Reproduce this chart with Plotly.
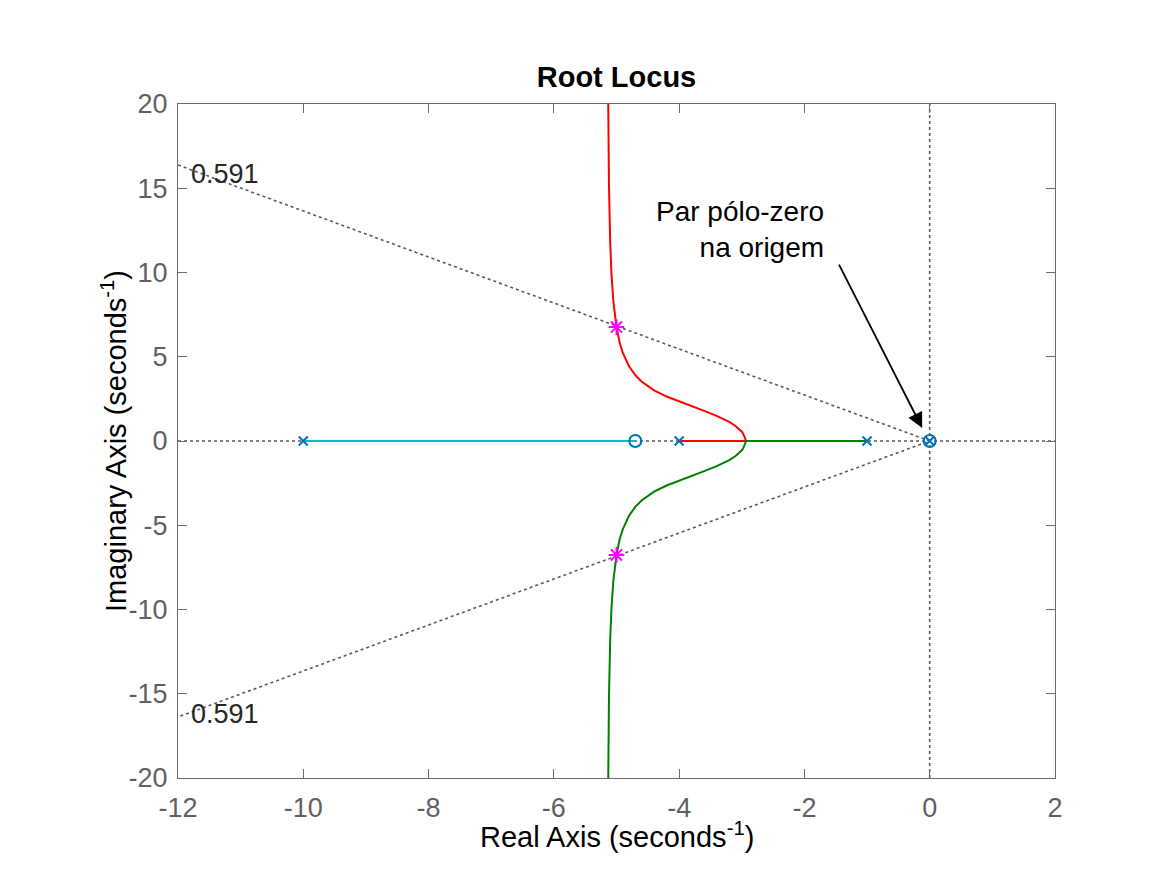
import plotly.graph_objects as go

# ---- data ----
pole_re = [-10.0, -4.0, -1.0, 0.0]
pole_im = [0.0, 0.0, 0.0, 0.0]
zero_re = [-4.7, 0.0]
zero_im = [0.0, 0.0]

cyan_re = [-10.0, -4.7]
cyan_im = [0.0, 0.0]

red_re = [-4.0, -3.5, -2.939, -2.94, -2.96, -2.98, -3.0, -3.05, -3.1, -3.2, -3.4, -3.6, -3.8,
          -4.0, -4.2, -4.4, -4.6, -4.7, -4.8, -4.9, -4.95, -5.0, -5.05, -5.08, -5.1, -5.12,
          -5.13, -5.135]
red_im = [0.0, 0.0, 0.0, 0.09, 0.33, 0.45, 0.55, 0.74, 0.89, 1.13, 1.49, 1.79, 2.07,
          2.34, 2.64, 3.01, 3.53, 3.91, 4.43, 5.24, 5.85, 6.76, 8.28, 9.9, 11.71, 15.12,
          18.52, 21.4]
green_re = [-1.0, -2.0, -2.939, -2.94, -2.96, -2.98, -3.0, -3.05, -3.1, -3.2, -3.4, -3.6, -3.8,
            -4.0, -4.2, -4.4, -4.6, -4.7, -4.8, -4.9, -4.95, -5.0, -5.05, -5.08, -5.1, -5.12,
            -5.13, -5.135]
green_im = [0.0, 0.0, 0.0, -0.09, -0.33, -0.45, -0.55, -0.74, -0.89, -1.13, -1.49, -1.79, -2.07,
            -2.34, -2.64, -3.01, -3.53, -3.91, -4.43, -5.24, -5.85, -6.76, -8.28, -9.9, -11.71,
            -15.12, -18.52, -21.4]

star_re = [-5.0, -5.0]
star_im = [6.76, -6.76]

zeta_label = "0.591"
zeta_line_re = [-12.0, 0.0, -12.0]
zeta_line_im = [16.38, 0.0, -16.38]

x_ticks = [-12, -10, -8, -6, -4, -2, 0, 2]
y_ticks = [-20, -15, -10, -5, 0, 5, 10, 15, 20]

FONT = "Liberation Sans, Arial, Helvetica, sans-serif"
GRID = "#5a5a5a"
BLUE = "#0072BD"

fig = go.Figure()

# sgrid-like dotted lines
fig.add_trace(go.Scatter(x=[-12, 2], y=[0, 0], mode="lines",
                         line=dict(color=GRID, width=1.6, dash="dot"), hoverinfo="skip"))
fig.add_trace(go.Scatter(x=[0, 0], y=[-20, 20], mode="lines",
                         line=dict(color=GRID, width=1.6, dash="dot"), hoverinfo="skip"))
fig.add_trace(go.Scatter(x=zeta_line_re, y=zeta_line_im, mode="lines",
                         line=dict(color=GRID, width=1.6, dash="dot"), hoverinfo="skip"))

# locus branches
fig.add_trace(go.Scatter(x=cyan_re, y=cyan_im, mode="lines",
                         line=dict(color="#00BFBF", width=2)))
fig.add_trace(go.Scatter(x=red_re, y=red_im, mode="lines",
                         line=dict(color="#FF0000", width=2)))
fig.add_trace(go.Scatter(x=green_re, y=green_im, mode="lines",
                         line=dict(color="#008000", width=2)))

# poles and zeros
fig.add_trace(go.Scatter(x=pole_re, y=pole_im, mode="markers",
                         marker=dict(symbol="x-thin", size=9, color=BLUE,
                                     line=dict(color=BLUE, width=2))))
fig.add_trace(go.Scatter(x=zero_re, y=zero_im, mode="markers",
                         marker=dict(symbol="circle-open", size=12, color=BLUE,
                                     line=dict(color=BLUE, width=2))))
fig.add_trace(go.Scatter(x=star_re, y=star_im, mode="markers",
                         marker=dict(symbol="asterisk-open", size=13, color="#FF00FF",
                                     line=dict(color="#FF00FF", width=2))))

axis_common = dict(
    showgrid=False, zeroline=False, showline=True, mirror="ticks",
    linecolor="#6b6b6b", linewidth=1.3, ticks="inside", ticklen=9, tickwidth=1.3,
    tickcolor="#6b6b6b", tickfont=dict(family=FONT, size=27, color="#5f5f5f"),
)

fig.update_layout(
    width=1167, height=875,
    paper_bgcolor="white", plot_bgcolor="white",
    showlegend=False,
    margin=dict(l=178, r=112, t=104, b=97),
    title=dict(text="<b>Root Locus</b>", x=(178 + 1055) / 2 / 1167, xanchor="center",
               y=1 - 77 / 875, yanchor="middle",
               font=dict(family=FONT, size=29, color="black")),
    xaxis=dict(range=[-12, 2], tickvals=x_ticks, ticktext=[str(t) for t in x_ticks],
               ticklabelstandoff=5, **axis_common),
    yaxis=dict(range=[-20, 20], tickvals=y_ticks, ticktext=[str(t) for t in y_ticks],
               ticklabelstandoff=4, **axis_common),
)

# axis titles
fig.add_annotation(xref="paper", yref="paper", x=0.5, y=(778 - 835) / 674,
                   text="Real Axis (seconds<sup>-1</sup>)", showarrow=False,
                   xanchor="center", yanchor="middle",
                   font=dict(family=FONT, size=29, color="black"))
fig.add_annotation(xref="paper", yref="paper", x=(114 - 178) / 877, y=0.5,
                   text="Imaginary Axis (seconds<sup>-1</sup>)", showarrow=False,
                   textangle=-90, xanchor="center", yanchor="middle",
                   font=dict(family=FONT, size=29, color="black"))

# damping labels
fig.add_annotation(x=-11.82, y=15.85, text=zeta_label, showarrow=False, xanchor="left",
                   yanchor="middle", font=dict(family=FONT, size=27, color="#262626"))
fig.add_annotation(x=-11.82, y=-16.2, text=zeta_label, showarrow=False, xanchor="left",
                   yanchor="middle", font=dict(family=FONT, size=27, color="#262626"))

# text annotation + arrow
fig.add_annotation(x=-1.655, y=12.55, text="Par pólo-zero<br>na origem", showarrow=False,
                   xanchor="right", yanchor="middle", align="right",
                   font=dict(family=FONT, size=28, color="black"))
fig.add_annotation(x=-0.12, y=0.77, ax=-1.46, ay=10.56, axref="x", ayref="y",
                   text="", showarrow=True, arrowhead=2, arrowsize=1.7, arrowwidth=1.8,
                   arrowcolor="black")

fig.write_html("out.html")
